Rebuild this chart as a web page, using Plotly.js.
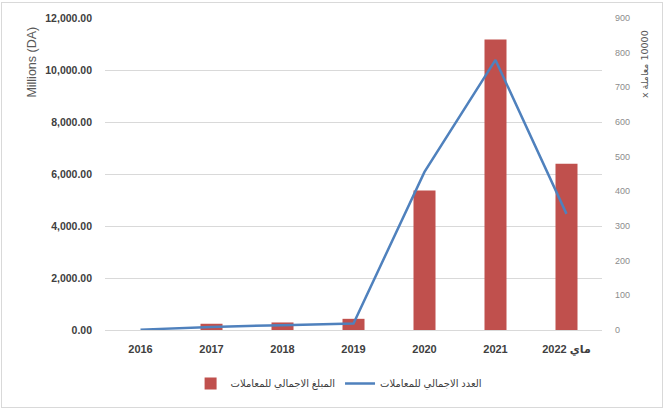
<!DOCTYPE html>
<html>
<head>
<meta charset="utf-8">
<script src="https://cdn.plot.ly/plotly-3.0.1.min.js"></script>
<style>
html,body{margin:0;padding:0;background:#fff;}
#wrap{position:relative;width:664px;height:410px;}
#chart{width:664px;height:410px;}
#frame{position:absolute;left:1px;top:2px;width:660px;height:404px;border:1px solid #d9d9d9;pointer-events:none;}
</style>
</head>
<body>
<div id="wrap"><div id="chart"></div><div id="frame"></div></div>
<script>
const categories = ["2016","2017","2018","2019","2020","2021","ماي 2022"];
const amountValues = [0, 240, 290, 430, 5370, 11170, 6390];
const countValues = [1, 9, 14, 19, 456, 779, 335];
const amountName = "المبلغ الاجمالي للمعاملات";
const countName = "العدد الاجمالي للمعاملات";
const leftTitle = "Millions (DA)";
const rightTitle = "x معاملة \u200E10000";

const fontFam = "Liberation Sans, DejaVu Sans, sans-serif";

const traces = [
  {
    type: "bar",
    x: categories,
    y: amountValues,
    name: amountName,
    marker: {color: "#C0504D"},
    width: 0.31,
    yaxis: "y"
  },
  {
    type: "scatter",
    mode: "lines",
    x: categories,
    y: countValues,
    name: countName,
    line: {color: "#4F81BD", width: 2.5},
    yaxis: "y2"
  }
];

const layout = {
  width: 664, height: 410,
  margin: {l: 105, r: 62, t: 18, b: 78},
  paper_bgcolor: "#fff",
  plot_bgcolor: "#fff",
  font: {family: fontFam, color: "#404040"},
  showlegend: true,
  legend: {
    orientation: "h",
    x: 0.47, xanchor: "center",
    y: -0.125, yanchor: "top",
    font: {size: 10, color: "#404040"},
    traceorder: "normal"
  },
  xaxis: {
    type: "category",
    showgrid: false,
    showline: true,
    linecolor: "#d9d9d9",
    ticks: "",
    tickfont: {size: 11, color: "#404040", weight: "bold"},
    ticklabelstandoff: 9
  },
  yaxis: {
    range: [0, 12000],
    tickvals: [0, 2000, 4000, 6000, 8000, 10000, 12000],
    tickformat: ",.2f",
    showgrid: true,
    gridcolor: "#d9d9d9",
    zeroline: false,
    ticks: "",
    tickfont: {size: 10.5, color: "#404040", weight: "bold"},
    ticklabelstandoff: 12
  },
  yaxis2: {
    overlaying: "y",
    side: "right",
    range: [0, 900],
    tickvals: [0,100,200,300,400,500,600,700,800,900],
    showgrid: false,
    zeroline: false,
    ticks: "",
    tickfont: {size: 9, color: "#8c8c8c"},
    ticklabelstandoff: 12
  },
  annotations: [
    {
      text: leftTitle, xref: "paper", yref: "paper",
      x: -0.147, y: 0.86, textangle: -90, showarrow: false,
      font: {size: 12.5, color: "#595959"}, xanchor: "center", yanchor: "middle"
    },
    {
      text: rightTitle, xref: "paper", yref: "paper",
      x: 1.087, y: 0.853, textangle: -90, showarrow: false,
      font: {size: 9.5, color: "#595959", family: "DejaVu Sans, sans-serif"}, xanchor: "center", yanchor: "middle"
    }
  ]
};

Plotly.newPlot("chart", traces, layout, {displayModeBar: false, staticPlot: true});
</script>
</body>
</html>
